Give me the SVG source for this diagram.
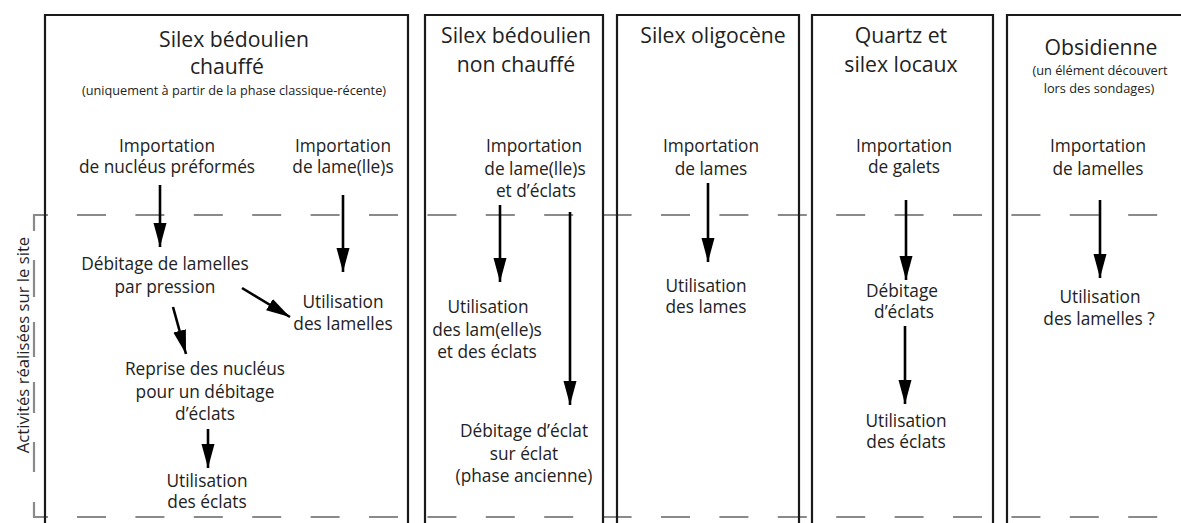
<svg xmlns="http://www.w3.org/2000/svg" width="1181" height="523" viewBox="0 0 1181 523">
<style>
text{font-family:"Open Sans","Liberation Sans",sans-serif;fill:#222;text-anchor:middle}
.t{font-size:21.2px}
.s{font-size:12.7px}
.s2{font-size:12.8px}
.b{font-size:17.3px}
.box{fill:none;stroke:#1a1a1a;stroke-width:2.2}
.dash{fill:none;stroke:#8a8a8a;stroke-width:2.2}
.arr{fill:none;stroke:#000;stroke-width:2.6;marker-end:url(#ah)}
</style>
<defs>
<marker id="ah" markerUnits="userSpaceOnUse" markerWidth="26" markerHeight="14" refX="24" refY="6.5" orient="auto">
<path d="M0,0 L24,6.5 L0,13 z" fill="#000"/>
</marker>
</defs>
<rect width="1181" height="523" fill="#fff"/>
<g id="guides">
<path class="dash" d="M77,215 H1158" stroke-dasharray="29 29.4"/>
<path class="dash" d="M77,517 H1158" stroke-dasharray="29 29.4"/>
<path class="dash" d="M48,215 H34 V231 M34,260 V297 M34,322 V357 M34,382 V413 M34,442 V472 M34,502 V517 H48"/>
<text transform="translate(29,345) rotate(-90)" style="font-size:16.7px">Activités réalisées sur le site</text>
</g>
<g id="col1">
<path class="box" d="M45,523 V15 H408 V523"/>
<text class="t" x="234" y="47">Silex bédoulien</text>
<text class="t" x="227" y="74">chauffé</text>
<text class="s" x="234" y="95">(uniquement à partir de la phase classique-récente)</text>
<g id="n1a"><text class="b" x="167" y="152">Importation</text><text class="b" x="167" y="173">de nucléus préformés</text></g>
<g id="n1b"><text class="b" x="343" y="152">Importation</text><text class="b" x="343" y="173">de lame(lle)s</text></g>
<g id="n1c"><text class="b" x="165" y="270">Débitage de lamelles</text><text class="b" x="165" y="293">par pression</text></g>
<g id="n1d"><text class="b" x="343" y="308">Utilisation</text><text class="b" x="343" y="330">des lamelles</text></g>
<g id="n1e"><text class="b" x="205" y="375">Reprise des nucléus</text><text class="b" x="205" y="398">pour un débitage</text><text class="b" x="205" y="420">d’éclats</text></g>
<g id="n1f"><text class="b" x="207" y="487">Utilisation</text><text class="b" x="207" y="508">des éclats</text></g>
</g>
<g id="col2">
<path class="box" d="M425,523 V15 H603 V523"/>
<text class="t" x="516" y="43">Silex bédoulien</text>
<text class="t" x="516" y="72">non chauffé</text>
<g id="n2a"><text class="b" x="534" y="152">Importation</text><text class="b" x="535" y="175">de lame(lle)s</text><text class="b" x="536" y="197">et d’éclats</text></g>
<g id="n2b"><text class="b" x="488" y="313">Utilisation</text><text class="b" x="487" y="336">des lam(elle)s</text><text class="b" x="487" y="358">et des éclats</text></g>
<g id="n2c"><text class="b" x="524" y="437">Débitage d’éclat</text><text class="b" x="524" y="460">sur éclat</text><text class="b" x="524" y="482">(phase ancienne)</text></g>
</g>
<g id="col3">
<path class="box" d="M617,523 V15 H799 V523"/>
<text class="t" x="713" y="43">Silex oligocène</text>
<g id="n3a"><text class="b" x="711" y="152">Importation</text><text class="b" x="711" y="175">de lames</text></g>
<g id="n3b"><text class="b" x="706" y="292">Utilisation</text><text class="b" x="706" y="313">des lames</text></g>
</g>
<g id="col4">
<path class="box" d="M812,523 V15 H993 V523"/>
<text class="t" x="901" y="43">Quartz et</text>
<text class="t" x="901" y="72">silex locaux</text>
<g id="n4a"><text class="b" x="904" y="152">Importation</text><text class="b" x="904" y="173">de galets</text></g>
<g id="n4b"><text class="b" x="902" y="297">Débitage</text><text class="b" x="904" y="318">d’éclats</text></g>
<g id="n4c"><text class="b" x="906" y="427">Utilisation</text><text class="b" x="906" y="448">des éclats</text></g>
</g>
<g id="col5">
<path class="box" d="M1007,523 V15 H1181"/>
<text class="t" x="1101" y="55">Obsidienne</text>
<text class="s2" x="1100" y="75">(un élément découvert</text>
<text class="s2" x="1099" y="93">lors des sondages)</text>
<g id="n5a"><text class="b" x="1098" y="152">Importation</text><text class="b" x="1098" y="175">de lamelles</text></g>
<g id="n5b"><text class="b" x="1100" y="303">Utilisation</text><text class="b" x="1099" y="325">des lamelles ?</text></g>
</g>
<g id="connectors">
<path class="arr" d="M160,185 V247"/>
<path class="arr" d="M343,195 V272"/>
<path class="arr" d="M242,288 L290,317"/>
<path class="arr" d="M173,307 L186,354"/>
<path class="arr" d="M208,429 V468"/>
<path class="arr" d="M500,205 V282"/>
<path class="arr" d="M570,212 V405"/>
<path class="arr" d="M708,183 V262"/>
<path class="arr" d="M906,200 V280"/>
<path class="arr" d="M905,326 V404"/>
<path class="arr" d="M1100,200 V278"/>
</g>
</svg>
